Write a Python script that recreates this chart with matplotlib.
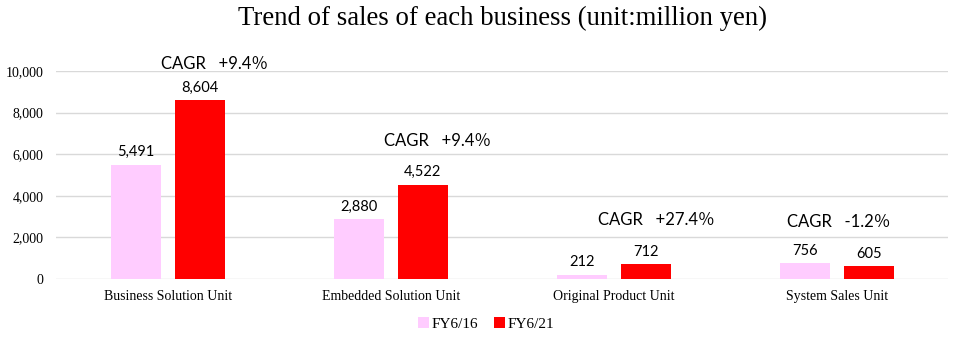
import matplotlib
matplotlib.use("Agg")
import matplotlib.pyplot as plt
import numpy as np

categories = ["Business Solution Unit", "Embedded Solution Unit", "Original Product Unit", "System Sales Unit"]
fy16 = [5491, 2880, 212, 756]
fy21 = [8604, 4522, 712, 605]
cagr_labels = ["CAGR\u2002 +9.4％", "CAGR\u2002 +9.4％", "CAGR\u2002 +27.4％", "CAGR\u2002 -1.2％"]
cagr_x = [0.21, 1.21, 2.19, 3.01]
cagr_y = [10330, 6630, 2840, 2740]
series_names = ["FY6/16", "FY6/21"]
yticks = [0, 2000, 4000, 6000, 8000, 10000]

fig = plt.figure(figsize=(9.59, 3.41), dpi=100)
ax = fig.add_axes([0.0589, 0.182, 0.930, 0.610])

x = np.arange(len(categories))
w = 0.224
off = 0.143
b1 = ax.bar(x - off, fy16, w, color="#ffccff", label=series_names[0], zorder=3)
b2 = ax.bar(x + off, fy21, w, color="#ff0000", label=series_names[1], zorder=3)

lab_font = dict(family=["Lato", "DejaVu Sans"], fontsize=10.5, color="#000000")
for bars, vals in ((b1, fy16), (b2, fy21)):
    for b, v in zip(bars, vals):
        ax.annotate(f"{v:,}", (b.get_x() + b.get_width() / 2, v), xytext=(0, 4),
                    textcoords="offset points", ha="center", va="bottom", **lab_font)

for cx, cy, t in zip(cagr_x, cagr_y, cagr_labels):
    ax.text(cx, cy, t, ha="center", va="center", fontsize=12,
            family=["Noto Sans CJK JP", "DejaVu Sans"] if False else ["Lato", "Noto Sans CJK JP", "DejaVu Sans"],
            clip_on=False)

ax.set_xlim(-0.5, 3.5)
ax.set_ylim(0, 10000)
ax.set_yticks(yticks)
ax.set_yticklabels([f"{v:,}" for v in yticks], family="Liberation Serif", fontsize=10)
ax.set_xticks(x)
ax.set_xticklabels(categories, family="Liberation Serif", fontsize=10)
ax.tick_params(axis="y", length=0, pad=9.5)
ax.tick_params(axis="x", length=0, pad=8)
ax.grid(axis="y", color="#d9d9d9", linewidth=1, zorder=0)
for s in ax.spines.values():
    s.set_visible(False)

fig.text(0.524, 0.945, "Trend of sales of each business (unit:million yen)", ha="center", va="center",
         family="Liberation Serif", fontsize=19.3)

fig.legend(handles=[b1, b2], loc="center", bbox_to_anchor=(0.507, 0.05), ncol=2, frameon=False,
           prop=dict(family="Liberation Serif", size=11), handlelength=0.7, handleheight=0.7,
           handletextpad=0.2, columnspacing=1.0)

fig.savefig("out.png", dpi=100)
